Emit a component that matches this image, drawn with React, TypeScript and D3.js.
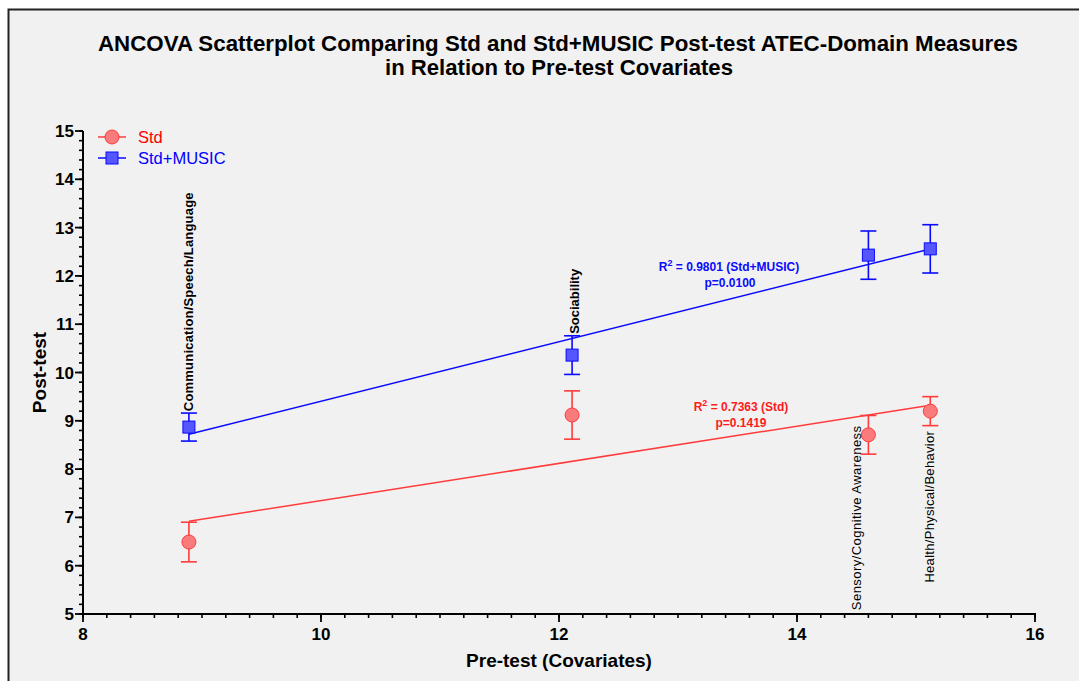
import React from "react";
import * as d3 from "d3";

// domains, in the order of the pre-test value
const domains = [
  "Communication/Speech/Language",
  "Sociability",
  "Sensory/Cognitive Awareness",
  "Health/Physical/Behavior",
];
const preTest = [8.89, 12.11, 14.6, 15.12];

const stdPost = [6.49, 9.12, 8.71, 9.2];
const stdErr = [0.41, 0.5, 0.4, 0.3];
const musicPost = [8.87, 10.36, 12.43, 12.56];
const musicErr = [0.29, 0.4, 0.5, 0.5];

const xTicks = [8, 10, 12, 14, 16];
const yTicks = [5, 6, 7, 8, 9, 10, 11, 12, 13, 14, 15];

const stdFit = { r2: "0.7363", p: "0.1419" };
const musicFit = { r2: "0.9801", p: "0.0100" };

const W = 1079;
const H = 681;
const margin = { left: 83, right: 44, top: 131, bottom: 67 };

const RED = "#ff3b3b";
const RED_FILL = "#fa7b7b";
const BLUE = "#0a0aff";
const BLUE_FILL = "#5656ff";
const FONT = "Arial, 'Liberation Sans', sans-serif";

function fit(xs: number[], ys: number[]) {
  const mx = d3.mean(xs)!;
  const my = d3.mean(ys)!;
  const sxy = d3.sum(xs, (x, i) => (x - mx) * (ys[i] - my));
  const sxx = d3.sum(xs, (x) => (x - mx) ** 2);
  const slope = sxy / sxx;
  return (x: number) => my + slope * (x - mx);
}

export default function App() {
  const x = d3.scaleLinear().domain([8, 16]).range([margin.left, W - margin.right]);
  const y = d3.scaleLinear().domain([5, 15]).range([H - margin.bottom, margin.top]);

  const x0 = d3.min(preTest)!;
  const x1 = d3.max(preTest)!;
  const stdLine = fit(preTest, stdPost);
  const musicLine = fit(preTest, musicPost);
  const line = d3.line<number[]>().x((d) => x(d[0])).y((d) => y(d[1]));

  const xMinor = d3.range(8, 16.001, 0.2);
  const yMinor = d3.range(5, 15.001, 0.2);

  const errorBar = (xv: number, v: number, e: number, color: string, key: string) => (
    <g key={key} stroke={color} strokeWidth={1.6}>
      <line x1={x(xv)} x2={x(xv)} y1={y(v - e)} y2={y(v + e)} />
      <line x1={x(xv) - 8} x2={x(xv) + 8} y1={y(v - e)} y2={y(v - e)} />
      <line x1={x(xv) - 8} x2={x(xv) + 8} y1={y(v + e)} y2={y(v + e)} />
    </g>
  );

  // label placement per domain: anchor end at y, x offset
  const labelPos = [
    { yv: 9.2, dx: 0, bold: true, spacing: 0.2 },
    { yv: 10.8, dx: 3, bold: true, spacing: 0 },
    { yv: 5.08, dx: -11, bold: false, spacing: 0.45 },
    { yv: 5.65, dx: 0, bold: false, spacing: 0.3 },
  ];

  return (
    <svg
      width={W}
      height={H}
      style={{ position: "absolute", left: 0, top: 0, fontFamily: FONT }}
    >
      <rect width={W} height={H} fill="#ffffff" />
      <rect x={8.5} y={9.5} width={W + 10} height={H + 10} fill="#f1f1f1" stroke="#222" strokeWidth={2} />

      <text x={558} y={51} textAnchor="middle" fontSize={21.5} fontWeight="bold"
        textLength={920} lengthAdjust="spacingAndGlyphs">
        ANCOVA Scatterplot Comparing Std and Std+MUSIC Post-test ATEC-Domain Measures
      </text>
      <text x={559} y={75} textAnchor="middle" fontSize={21.5} fontWeight="bold"
        textLength={348} lengthAdjust="spacingAndGlyphs">
        in Relation to Pre-test Covariates
      </text>

      {/* y axis */}
      <g stroke="#000">
        <line x1={x(8)} x2={x(8)} y1={y(5) + 1} y2={y(15)} strokeWidth={2} />
        {yMinor.map((v, i) => (
          <line key={i} x1={x(8) - 4} x2={x(8)} y1={y(v)} y2={y(v)} strokeWidth={1.6} />
        ))}
        {yTicks.map((v) => (
          <line key={v} x1={x(8) - 8} x2={x(8)} y1={y(v)} y2={y(v)} strokeWidth={1.8} />
        ))}
      </g>
      {yTicks.map((v) => (
        <text key={v} x={x(8) - 9} y={y(v) + 6} textAnchor="end" fontSize={17} fontWeight="bold">
          {v}
        </text>
      ))}
      <text
        transform={`translate(46, ${y(10)}) rotate(-90)`}
        textAnchor="middle"
        fontSize={19}
        fontWeight="bold"
      >
        Post-test
      </text>

      {/* x axis */}
      <g stroke="#000">
        <line x1={x(8) - 1} x2={x(16) + 1} y1={y(5)} y2={y(5)} strokeWidth={2} />
        {xMinor.map((v, i) => (
          <line key={i} x1={x(v)} x2={x(v)} y1={y(5)} y2={y(5) + 4} strokeWidth={1.6} />
        ))}
        {xTicks.map((v) => (
          <line key={v} x1={x(v)} x2={x(v)} y1={y(5)} y2={y(5) + 8} strokeWidth={1.8} />
        ))}
      </g>
      {xTicks.map((v) => (
        <text key={v} x={x(v)} y={y(5) + 26} textAnchor="middle" fontSize={17} fontWeight="bold">
          {v}
        </text>
      ))}
      <text x={559} y={667} textAnchor="middle" fontSize={19} fontWeight="bold">
        Pre-test (Covariates)
      </text>

      {/* regression lines */}
      <path d={line([[x0, stdLine(x0)], [x1, stdLine(x1)]])!} stroke={RED} strokeWidth={1.5} fill="none" />
      <path d={line([[x0, musicLine(x0)], [x1, musicLine(x1)]])!} stroke={BLUE} strokeWidth={1.5} fill="none" />

      {/* error bars and points */}
      {preTest.map((xv, i) => errorBar(xv, stdPost[i], stdErr[i], RED, "se" + i))}
      {preTest.map((xv, i) => errorBar(xv, musicPost[i], musicErr[i], BLUE, "me" + i))}
      {preTest.map((xv, i) => (
        <circle key={"s" + i} cx={x(xv)} cy={y(stdPost[i])} r={7} fill={RED_FILL} stroke={RED} strokeWidth={1} />
      ))}
      {preTest.map((xv, i) => (
        <rect
          key={"m" + i}
          x={x(xv) - 6}
          y={y(musicPost[i]) - 6}
          width={12}
          height={12}
          fill={BLUE_FILL}
          stroke={BLUE}
          strokeWidth={1}
        />
      ))}

      {/* domain labels */}
      {domains.map((name, i) => (
        <text
          key={name}
          transform={`translate(${x(preTest[i]) + labelPos[i].dx + 4}, ${y(labelPos[i].yv)}) rotate(-90)`}
          fontSize={13}
          fontWeight={labelPos[i].bold ? "bold" : "normal"}
          letterSpacing={labelPos[i].spacing}
          fill="#000"
        >
          {name}
        </text>
      ))}

      {/* fit annotations */}
      <g fill={BLUE} fontSize={12} fontWeight="bold" textAnchor="middle">
        <text x={729} y={271}>
          R<tspan dy={-5} fontSize={9}>2</tspan>
          <tspan dy={5}>{` = ${musicFit.r2} (Std+MUSIC)`}</tspan>
        </text>
        <text x={730} y={287}>p={musicFit.p}</text>
      </g>
      <g fill="#ff1a1a" fontSize={12} fontWeight="bold" textAnchor="middle">
        <text x={741} y={411}>
          R<tspan dy={-5} fontSize={9}>2</tspan>
          <tspan dy={5}>{` = ${stdFit.r2} (Std)`}</tspan>
        </text>
        <text x={741} y={427}>p={stdFit.p}</text>
      </g>

      {/* legend */}
      <g>
        <line x1={98} x2={126} y1={137} y2={137} stroke={RED} strokeWidth={1.5} />
        <circle cx={112} cy={137} r={7} fill={RED_FILL} stroke={RED} />
        <text x={138} y={143} fontSize={16.5} fill="#ff0000">Std</text>
        <line x1={98} x2={126} y1={158} y2={158} stroke={BLUE} strokeWidth={1.5} />
        <rect x={106} y={152} width={12} height={12} fill={BLUE_FILL} stroke={BLUE} />
        <text x={138} y={164} fontSize={16.5} fill="#0000ff">Std+MUSIC</text>
      </g>
    </svg>
  );
}
